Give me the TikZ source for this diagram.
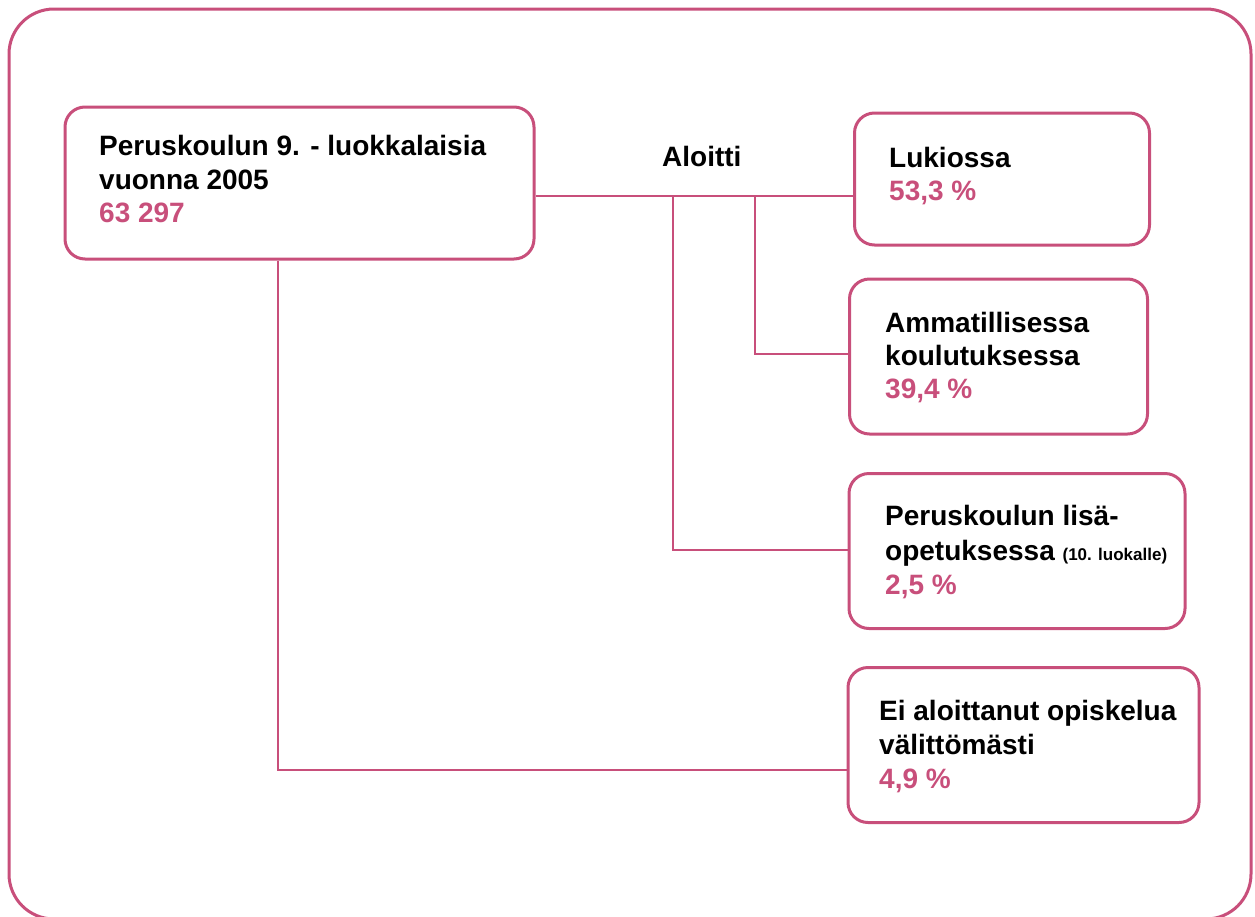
\documentclass[tikz,border=0pt]{standalone}
\usepackage{fontspec}
\setmainfont{Liberation Sans}
\definecolor{pink}{HTML}{C84F7B}
\tikzset{
  box/.style={draw=pink, line width=3pt, rounded corners=20pt, anchor=north west, inner sep=0pt},
  conn/.style={draw=pink, line width=1.8pt},
  lbl/.style={anchor=base west, inner sep=0pt, font=\bfseries\fontsize{28}{33}\selectfont},
  num/.style={lbl, text=pink},
}
\begin{document}
\begin{tikzpicture}[x=1pt,y=-1pt]
\useasboundingbox (0,0) rectangle (1255,916);
\draw[pink, line width=3pt, rounded corners=45pt] (9,9) rectangle (1251,919);

\node[box, minimum width=469pt, minimum height=152pt] (main) at (63.5,105.5) {};
\node[box, minimum width=295pt, minimum height=132pt] (luk) at (853,111.5) {};
\node[box, minimum width=298pt, minimum height=155pt] (amm) at (848,277.5) {};
\node[box, minimum width=336pt, minimum height=155pt] (pk) at (847.5,472) {};
\node[box, minimum width=351pt, minimum height=155pt] (ei) at (846.5,666) {};

\node[lbl] (m1) at (99,155) {Peruskoulun 9. - luokkalaisia};
\node[lbl] (m2) at (99,189) {vuonna 2005};
\node[num] (m3) at (99,222) {63 297};

\node[lbl] (al) at (662,166) {Aloitti};

\node[lbl] (l1) at (889,167) {Lukiossa};
\node[num] (l2) at (889,200) {53,3 \%};

\node[lbl] (a1) at (885,332) {Ammatillisessa};
\node[lbl] (a2) at (885,365) {koulutuksessa};
\node[num] (a3) at (885,398) {39,4 \%};

\node[lbl] (p1) at (885,525) {Peruskoulun lisä-};
\node[lbl] (p2) at (885,560) {opetuksessa {\fontsize{17}{20}\selectfont(10. luokalle)}};
\node[num] (p3) at (885,594) {2,5 \%};

\node[lbl] (e1) at (879,720) {Ei aloittanut opiskelua};
\node[lbl] (e2) at (879,754) {välittömästi};
\node[num] (e3) at (879,788) {4,9 \%};

\coordinate (j1) at (673,196);
\coordinate (j2) at (755,196);
\coordinate (k1) at (673,550);
\coordinate (k2) at (755,354);
\coordinate (k3) at (278,770);

\draw[conn] (main.east |- j1) -- (luk.west |- j1);
\draw[conn] (j1) -- (k1) -- (pk.west |- k1);
\draw[conn] (j2) -- (k2) -- (amm.west |- k2);
\draw[conn] (main.south -| k3) -- (k3) -- (ei.west |- k3);
\end{tikzpicture}
\end{document}
